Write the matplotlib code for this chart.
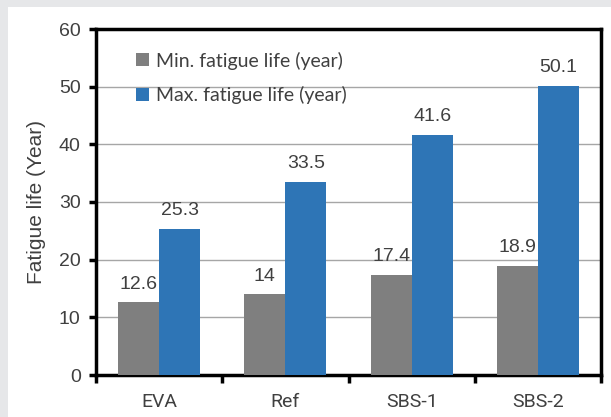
import numpy as np
import matplotlib.pyplot as plt
from matplotlib.patches import Rectangle

categories = ['EVA', 'Ref', 'SBS-1', 'SBS-2']
min_life = [12.6, 14, 17.4, 18.9]
max_life = [25.3, 33.5, 41.6, 50.1]
series_names = ['Min. fatigue life (year)', 'Max. fatigue life (year)']

plt.rcParams['font.family'] = ['Liberation Sans', 'DejaVu Sans']
text_color = '#404040'

fig = plt.figure(figsize=(6.11, 4.17), dpi=100, facecolor='#e6e7e9')
fig.patches.append(Rectangle((8 / 611, 0), 1, 1 - 7 / 417, transform=fig.transFigure,
                             facecolor='white', edgecolor='none', zorder=-10))
ax = fig.add_axes([96 / 611, 1 - 375 / 417, (601 - 96) / 611, (375 - 29) / 417])

x = np.arange(len(categories))
w = 0.325
b1 = ax.bar(x - w / 2, min_life, w, color='#7f7f7f', label=series_names[0], zorder=3)
b2 = ax.bar(x + w / 2, max_life, w, color='#2e75b6', label=series_names[1], zorder=3)

for bars, vals in ((b1, min_life), (b2, max_life)):
    for bar, v in zip(bars, vals):
        ax.annotate(f'{v:g}', (bar.get_x() + bar.get_width() / 2, v),
                    xytext=(0, 7), textcoords='offset points', ha='center', va='bottom',
                    fontsize=14, color=text_color)

ax.set_xlim(-0.5, 3.5)
ax.set_ylim(0, 60)
ax.set_yticks(range(0, 61, 10))
ax.set_xticks(x)
ax.set_xticklabels(categories, family=['Roboto', 'DejaVu Sans'])
ax.set_xticks(np.arange(-0.5, 4, 1), minor=True)
ax.tick_params(axis='x', which='major', length=0, pad=13, labelsize=14, labelcolor=text_color)
ax.tick_params(axis='x', which='minor', length=6, width=2.5, direction='out', color='black')
ax.tick_params(axis='y', length=5, width=2.5, labelsize=14, labelcolor=text_color, pad=6)
ax.yaxis.grid(True, color='#a6a6a6', linewidth=1, zorder=0)
ax.set_axisbelow(True)
for s in ax.spines.values():
    s.set_linewidth(2.5)
    s.set_color('black')

ax.set_ylabel('Fatigue life (Year)', fontsize=15, color=text_color, labelpad=9)

ax.legend(loc='upper left', bbox_to_anchor=(0.045, 0.985), frameon=False,
          prop={'family': ['Lato', 'DejaVu Sans'], 'size': 14},
          handlelength=0.65, handleheight=0.65, handletextpad=0.35, labelspacing=0.85,
          labelcolor=text_color)

fig.savefig('out.png', dpi=100, facecolor=fig.get_facecolor())
